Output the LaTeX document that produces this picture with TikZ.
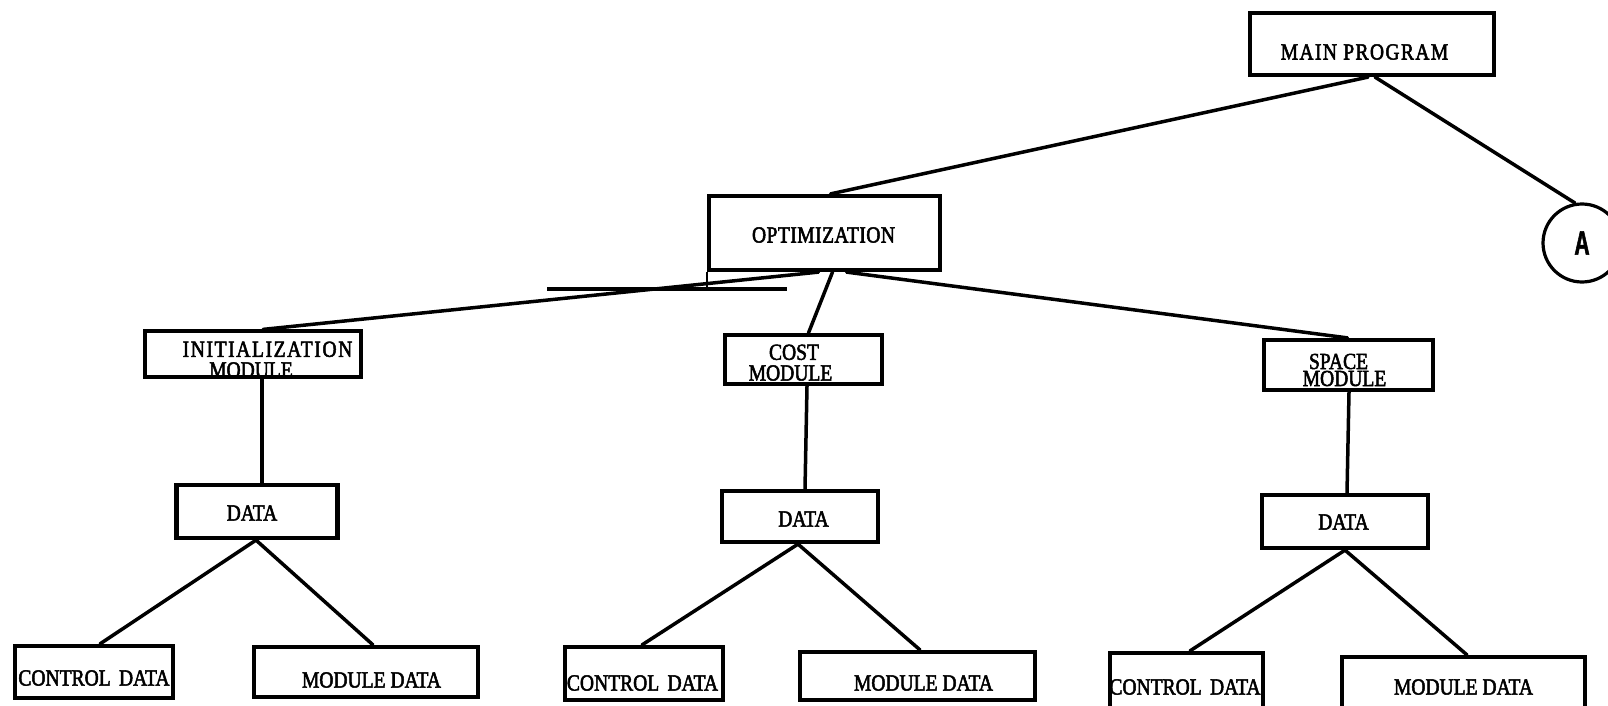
\documentclass[tikz,border=0pt]{standalone}
\usepackage{fontspec}
\setmainfont{Liberation Serif}[FakeStretch=0.85,FakeBold=2.2]
\newfontfamily\circfont{Liberation Sans}[FakeStretch=0.62,FakeBold=1.5]
% one line of a label: horizontal offset (twice the shift), baseline below centre, text
\newcommand{\tline}[3]{\makebox[0pt]{\hspace*{#1}\raisebox{-#2}[0pt][0pt]{#3}}}
\begin{document}
\begin{tikzpicture}[x=1pt,y=-1pt,
  bx/.style={draw, line width=4.2pt, inner sep=0pt, rectangle,
             font=\fontsize{23}{27}\selectfont},
  wire/.style={line width=3.5pt, line cap=round},
  ]
\useasboundingbox (0,0) rectangle (1608,706);
\clip (0,0) rectangle (1608,706);

% top level
\node[bx, minimum width=244pt, minimum height=62pt] (main) at (1372,44)
  {\tline{-15pt}{15.5pt}{\addfontfeature{LetterSpace=6}MAIN PROGRAM}};
\node[circle, draw, line width=3.2pt, minimum size=78pt, inner sep=0pt,
      font=\circfont\bfseries\fontsize{34}{38}\selectfont] (circ) at (1582,243) {A};

\node[bx, minimum width=231pt, minimum height=74pt] (opt) at (824.5,233)
  {\tline{-2pt}{9.5pt}{\addfontfeature{LetterSpace=2}OPTIMIZATION}};

% bar under the optimization box
\coordinate (barL) at (547,289);
\coordinate (barR) at (787,289);
\draw[line width=4.5pt] (barL) -- (barR);
\draw[line width=1.6pt] (opt.south west) -- (opt.south west |- barL);

% modules
\node[bx, line width=3.2pt, minimum width=216pt, minimum height=46pt] (init) at (253,354)
  {\tline{29pt}{2.8pt}{\addfontfeature{LetterSpace=7}INITIALIZATION}\tline{-4pt}{23.5pt}{MODULE}};
\node[bx, minimum width=157pt, minimum height=49pt] (cost) at (803.5,359.5)
  {\tline{-19pt}{0.3pt}{COST}\tline{-26pt}{21pt}{MODULE}};
\node[bx, minimum width=169pt, minimum height=50pt] (space) at (1348.5,365)
  {\tline{-20pt}{4pt}{SPACE}\tline{-8pt}{21pt}{MODULE}};

% data boxes
\node[bx, minimum width=161pt, minimum height=53pt] (data1) at (257,511.5)
  {\tline{-10pt}{9pt}{DATA}};
\node[bx, minimum width=156pt, minimum height=51pt] (data2) at (800,516.5)
  {\tline{7pt}{10pt}{DATA}};
\node[bx, minimum width=166pt, minimum height=53pt] (data3) at (1345,521.5)
  {\tline{-3pt}{8pt}{DATA}};

% leaves
\node[bx, minimum width=158pt, minimum height=52pt] (ctrl1) at (94,672)
  {\tline{0pt}{13.5pt}{CONTROL\hspace{0.15em} DATA}};
\node[bx, minimum width=224pt, minimum height=50pt] (mod1) at (366,672)
  {\tline{11pt}{15.5pt}{MODULE DATA}};
\node[bx, minimum width=158pt, minimum height=53pt] (ctrl2) at (644,673.5)
  {\tline{-3pt}{17pt}{CONTROL\hspace{0.15em} DATA}};
\node[bx, minimum width=235pt, minimum height=48pt] (mod2) at (917.5,676)
  {\tline{12pt}{14.5pt}{MODULE DATA}};
\node[bx, minimum width=153pt, minimum height=59pt] (ctrl3) at (1186.5,682.5)
  {\tline{-3pt}{12pt}{CONTROL\hspace{0.15em} DATA}};
\node[bx, minimum width=243pt, minimum height=55pt] (mod3) at (1463.5,684.5)
  {\tline{0pt}{10pt}{MODULE DATA}};

% connectors
\draw[wire] ([xshift=-4pt]main.south) -- ([xshift=6pt]opt.north);
\draw[wire] ([xshift=3pt]main.south) -- (circ.100);

\draw[wire] ([xshift=-6pt]opt.south) -- ([xshift=10pt]init.north);
\draw[wire] ([xshift=8pt]opt.south) -- ([xshift=5pt]cost.north);
\draw[wire] ([xshift=22pt]opt.south) -- ([xshift=-1pt]space.north);

\draw[wire] ([xshift=9pt]init.south) -- ([xshift=5pt]data1.north);
\draw[wire] ([xshift=3.5pt]cost.south) -- ([xshift=5pt]data2.north);
\draw[wire] ([xshift=0.5pt]space.south) -- ([xshift=2pt]data3.north);

\draw[wire] ([xshift=-1pt]data1.south) -- ([xshift=6pt]ctrl1.north);
\draw[wire] ([xshift=-1pt]data1.south) -- ([xshift=7pt]mod1.north);
\draw[wire] ([xshift=-2pt]data2.south) -- ([xshift=-2pt]ctrl2.north);
\draw[wire] ([xshift=-2pt]data2.south) -- ([xshift=2.5pt]mod2.north);
\draw[wire] (data3.south) -- ([xshift=3.5pt]ctrl3.north);
\draw[wire] (data3.south) -- ([xshift=3.5pt]mod3.north);
\end{tikzpicture}
\end{document}
